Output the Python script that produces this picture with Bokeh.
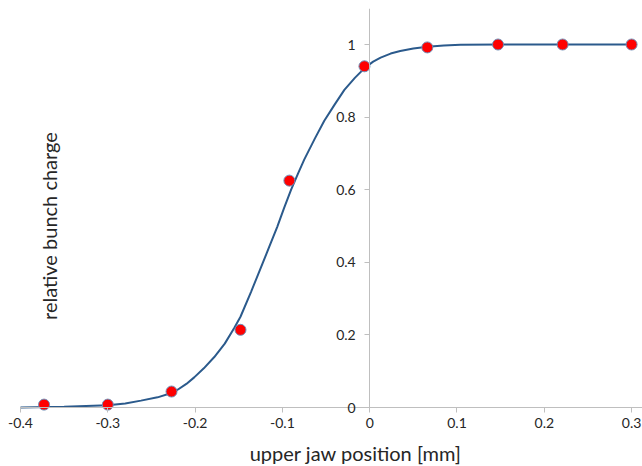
import math
from bokeh.plotting import figure
from bokeh.models import Range1d, LinearAxis, FixedTicker, Label
from bokeh.embed import file_html
from bokeh.resources import INLINE

# measured data points (red markers)
pos_mm = [-0.373, -0.300, -0.227, -0.148, -0.092, -0.006, 0.066, 0.147, 0.221, 0.300]
charge = [0.008, 0.008, 0.044, 0.214, 0.625, 0.940, 0.992, 1.000, 1.000, 1.000]

# fitted curve
fit_x = [-0.400, -0.350, -0.300, -0.280, -0.262, -0.243, -0.227, -0.220, -0.210, -0.201,
         -0.190, -0.178, -0.166, -0.155, -0.148, -0.136, -0.125, -0.115, -0.106, -0.098,
         -0.090, -0.082, -0.075, -0.063, -0.052, -0.040, -0.029, -0.017, -0.005, 0.004,
         0.0125, 0.024, 0.035, 0.050, 0.066, 0.085, 0.104, 0.150, 0.200, 0.300]
fit_y = [0.000, 0.002, 0.006, 0.011, 0.019, 0.028, 0.040, 0.049, 0.065, 0.083,
         0.108, 0.139, 0.176, 0.220, 0.250, 0.318, 0.383, 0.443, 0.497, 0.550,
         0.600, 0.645, 0.683, 0.740, 0.790, 0.835, 0.875, 0.908, 0.937, 0.953,
         0.964, 0.975, 0.982, 0.989, 0.994, 0.997, 0.999, 1.000, 1.000, 1.000]

x_ticks = [-0.4, -0.3, -0.2, -0.1, 0.0, 0.1, 0.2, 0.3]
x_tick_labels = ["-0.4", "-0.3", "-0.2", "-0.1", "0", "0.1", "0.2", "0.3"]
y_ticks = [0.0, 0.2, 0.4, 0.6, 0.8, 1.0]
y_tick_labels = ["0", "0.2", "0.4", "0.6", "0.8", "1"]

x_label = "upper jaw position [mm]"
y_label = "relative bunch  charge"

FONT = "Lato"
AX = "#bfbfbf"
TXT = "#262626"

p = figure(width=642, height=466, output_backend="svg", toolbar_location=None,
           x_range=Range1d(-0.4229, 0.3125), y_range=Range1d(-0.1625, 1.0992),
           x_axis_location=None, y_axis_location=None,
           min_border_left=0, min_border_right=0,
           min_border_top=8, min_border_bottom=0)
p.outline_line_color = None
p.xgrid.visible = False
p.ygrid.visible = False

xa = LinearAxis(fixed_location=0)
xa.ticker = FixedTicker(ticks=x_ticks)
xa.major_label_overrides = {t: s for t, s in zip(x_ticks, x_tick_labels)}
xa.bounds = (-0.4, 0.3125)
xa.axis_line_color = AX
xa.major_tick_line_color = AX
xa.minor_tick_line_color = None
xa.major_tick_in = 0
xa.major_tick_out = 5
xa.major_label_standoff = 5
xa.major_label_text_font = FONT
xa.major_label_text_font_size = "14px"
xa.major_label_text_color = TXT
p.add_layout(xa, "below")

ya = LinearAxis(fixed_location=0)
ya.ticker = FixedTicker(ticks=y_ticks)
ya.major_label_overrides = {t: s for t, s in zip(y_ticks, y_tick_labels)}
ya.bounds = (0, 1.0992)
ya.axis_line_color = AX
ya.major_tick_line_color = AX
ya.minor_tick_line_color = None
ya.major_tick_in = 0
ya.major_tick_out = 5
ya.major_label_standoff = 9
ya.major_label_text_font = FONT
ya.major_label_text_font_size = "14px"
ya.major_label_text_color = TXT
p.add_layout(ya, "left")

p.line(fit_x, fit_y, line_color="#2b5a8c", line_width=2)
p.scatter(pos_mm, charge, size=11, fill_color="#ff0000", line_color="#6f8fb8", line_width=1)

p.add_layout(Label(x=-0.016, y=-0.1255, text=x_label, text_align="center",
                   text_baseline="middle", text_font=FONT, text_font_size="20px",
                   text_color=TXT))
p.add_layout(Label(x=-0.367, y=0.507, text=y_label, angle=math.pi / 2,
                   text_align="center", text_baseline="middle", text_font=FONT,
                   text_font_size="20px", text_color=TXT))

open("out.html", "w").write(file_html(p, INLINE))
